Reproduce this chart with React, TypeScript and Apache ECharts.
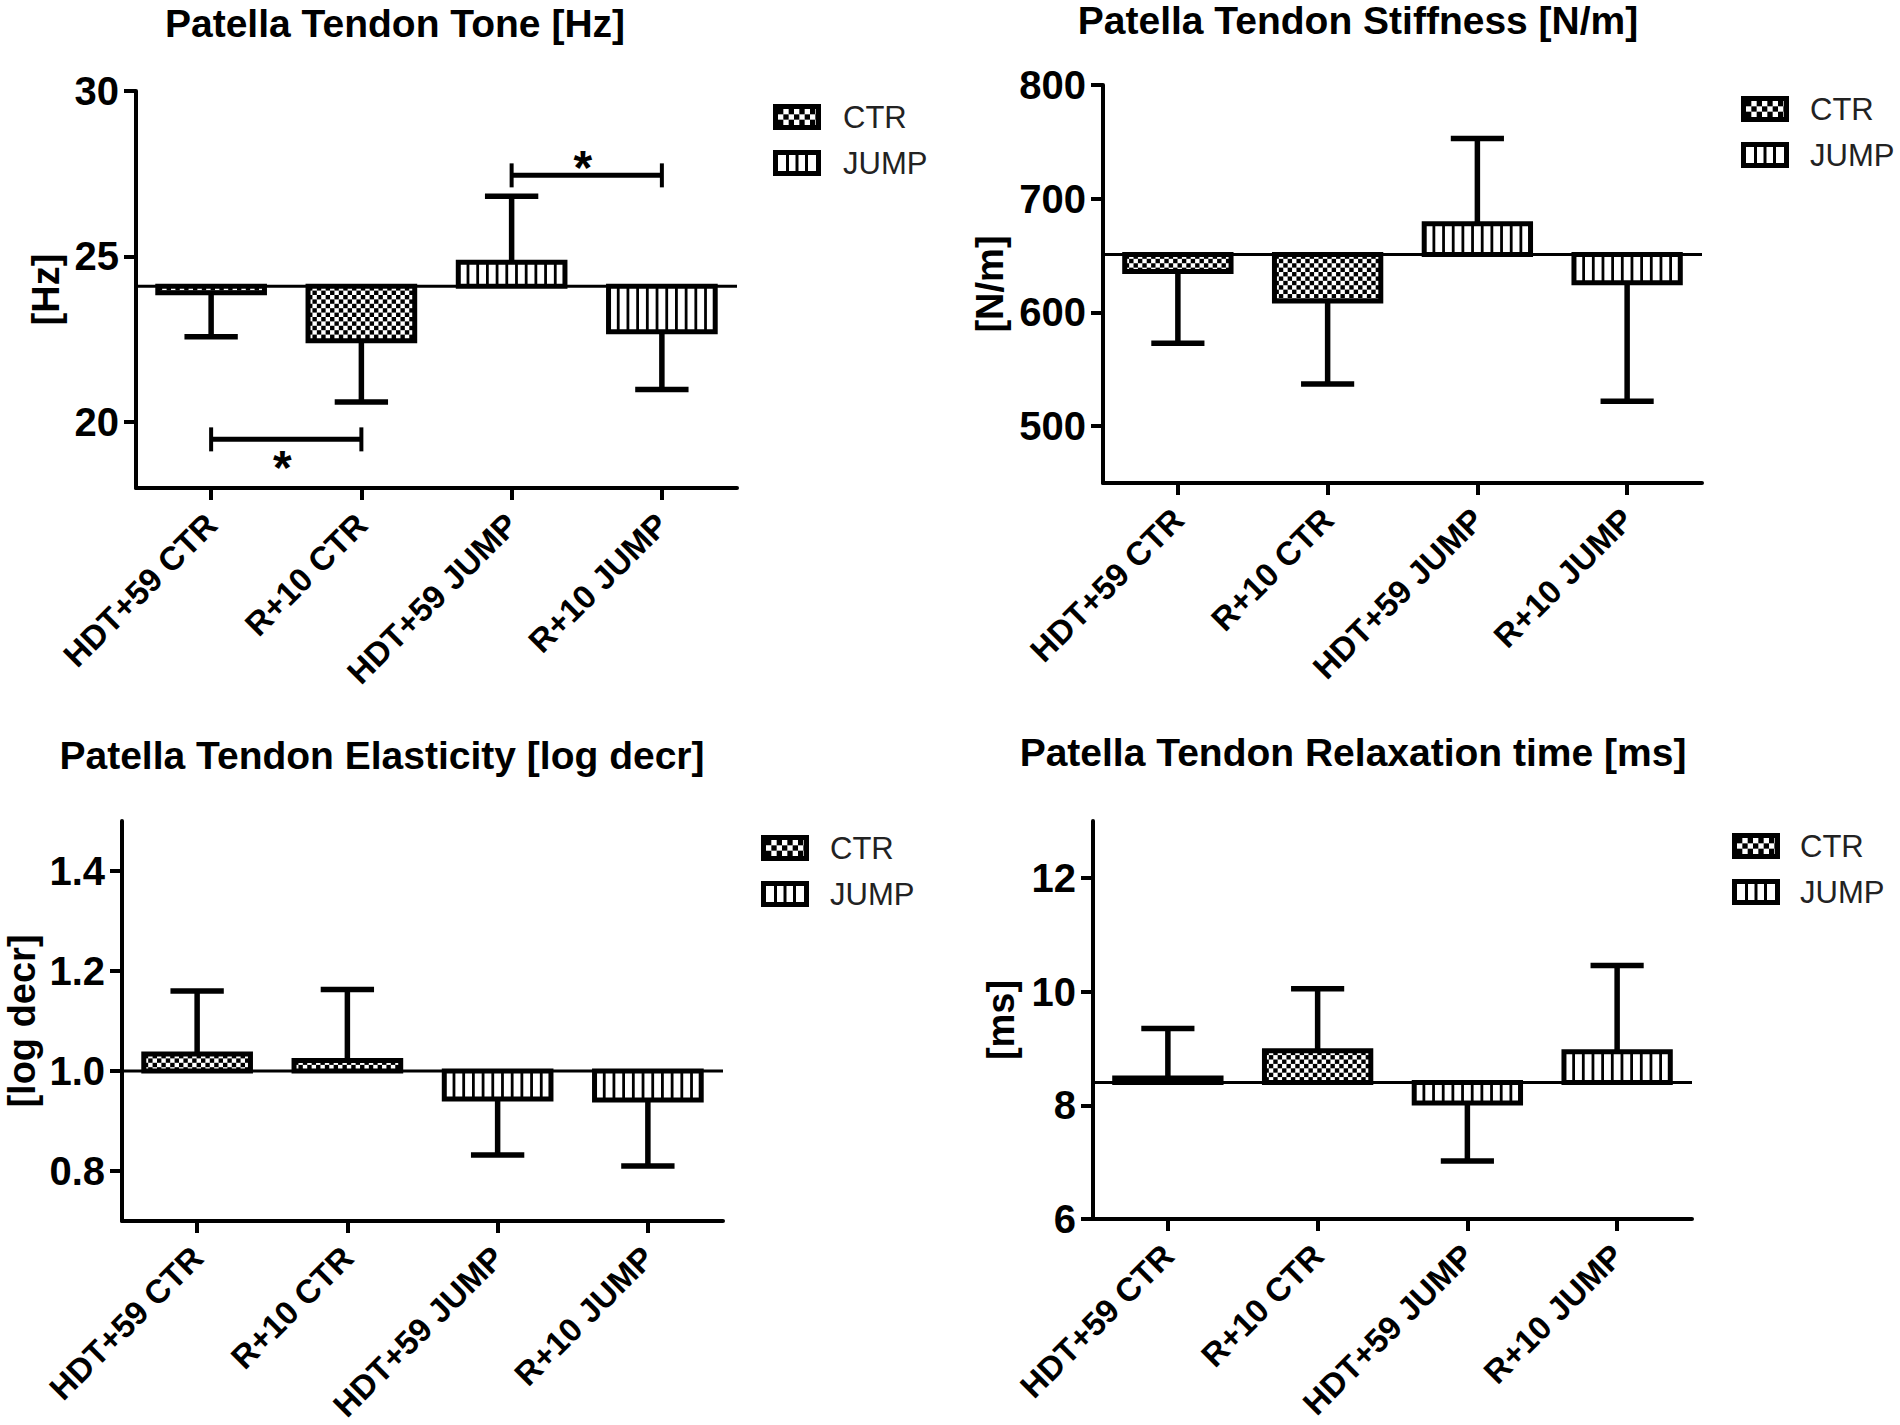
import React, { useEffect, useRef } from "react";
import * as echarts from "echarts";

// ---------------- data ----------------
const categories = ["HDT+59 CTR", "R+10 CTR", "HDT+59 JUMP", "R+10 JUMP"];
const groupOf = ["CTR", "CTR", "JUMP", "JUMP"];

const toneMean = [23.9, 22.45, 24.82, 22.72];
const toneErr = [22.57, 20.6, 26.82, 20.98];
const toneBase = 24.1;
const toneTicks = [20, 25, 30];
const toneBrackets = [
  { from: 2, to: 3, y: 27.45, side: 1 },
  { from: 0, to: 1, y: 19.47, side: -1 },
];

const stiffMean = [636, 610, 678, 626];
const stiffErr = [573, 537, 753, 522];
const stiffBase = 651;
const stiffTicks = [500, 600, 700, 800];

const elastMean = [1.034, 1.021, 0.944, 0.942];
const elastErr = [1.16, 1.163, 0.832, 0.81];
const elastBase = 1.0;
const elastTicks = [0.8, 1.0, 1.2, 1.4];

const relaxMean = [8.48, 8.96, 8.04, 8.94];
const relaxErr = [9.35, 10.05, 7.02, 10.46];
const relaxBase = 8.4;
const relaxTicks = [6, 8, 10, 12];

const legendNames = ["CTR", "JUMP"];

// ---------------- styling / layout ----------------
const FONT = "'Liberation Sans', Arial, Helvetica, sans-serif";
const CELL = 4.4;
const STRIPE_PERIOD = 9.7;
const STRIPE_W = 2.8;
const BAR_RATIO = 0.71;
const CAP_RATIO = 0.5;

const panels = [
  {
    title: "Patella Tendon Tone [Hz]", yName: "[Hz]",
    means: toneMean, errs: toneErr, base: toneBase, ticks: toneTicks,
    min: 18, max: 30, digits: 0,
    grid: { left: 136, top: 91, width: 601, height: 397 },
    nameGap: 71, titlePos: [395, 23], legend: { x: 773, y1: 117, y2: 163, tx: 843 },
  },
  {
    title: "Patella Tendon Stiffness [N/m]", yName: "[N/m]",
    means: stiffMean, errs: stiffErr, base: stiffBase, ticks: stiffTicks,
    min: 450, max: 800, digits: 0,
    grid: { left: 1103, top: 85, width: 599, height: 398 },
    nameGap: 94, titlePos: [1358, 20], legend: { x: 1741, y1: 109, y2: 155, tx: 1810 },
  },
  {
    title: "Patella Tendon Elasticity [log decr]", yName: "[log decr]",
    means: elastMean, errs: elastErr, base: elastBase, ticks: elastTicks,
    min: 0.7, max: 1.5, digits: 1,
    grid: { left: 122, top: 821, width: 601, height: 400 },
    nameGap: 81, titlePos: [382, 755], legend: { x: 761, y1: 848, y2: 894, tx: 830 },
  },
  {
    title: "Patella Tendon Relaxation time [ms]", yName: "[ms]",
    means: relaxMean, errs: relaxErr, base: relaxBase, ticks: relaxTicks,
    min: 6, max: 13, digits: 0,
    grid: { left: 1093, top: 821, width: 599, height: 398 },
    nameGap: 73, titlePos: [1353, 752], legend: { x: 1732, y1: 846, y2: 892, tx: 1800 },
  },
];

function patternChildren(kind: string, x: number, y: number, w: number, h: number, cell = CELL) {
  const out: any[] = [];
  if (w <= 0 || h <= 0) return out;
  if (kind === "CTR") {
    let i = 0;
    for (let yy = y; yy < y + h - 0.01; yy += cell, i++) {
      let j = 0;
      for (let xx = x; xx < x + w - 0.01; xx += cell, j++) {
        if ((i + j) % 2 === 0) {
          out.push({
            type: "rect",
            shape: { x: xx, y: yy, width: Math.min(cell, x + w - xx), height: Math.min(cell, y + h - yy) },
            style: { fill: "#000" },
          });
        }
      }
    }
  } else {
    const n = Math.max(1, Math.round(w / STRIPE_PERIOD));
    const sp = w / n;
    for (let k = 1; k < n; k++) {
      out.push({
        type: "rect",
        shape: { x: x + k * sp - STRIPE_W / 2, y, width: STRIPE_W, height: h },
        style: { fill: "#000" },
      });
    }
  }
  return out;
}

function makeBarRender(base: number) {
  return (params: any, api: any) => {
    const cat = api.value(0);
    const m = api.value(1);
    const e = api.value(2);
    const band = api.size([1, 0])[0];
    const bw = band * BAR_RATIO;
    const pB = api.coord([cat, base]);
    const pM = api.coord([cat, m]);
    const pE = api.coord([cat, e]);
    const cx = pB[0];
    const x0 = cx - bw / 2;
    const yTop = Math.min(pB[1], pM[1]);
    const h = Math.abs(pB[1] - pM[1]);
    const kind = groupOf[cat];
    const children: any[] = [];
    if (params.dataIndex === 0) {
      const cs = params.coordSys;
      children.push({
        type: "line",
        shape: { x1: cs.x, y1: pB[1], x2: cs.x + cs.width, y2: pB[1] },
        style: { stroke: "#000", lineWidth: 3 },
      });
    }
    children.push({ type: "rect", shape: { x: x0, y: yTop, width: bw, height: h }, style: { fill: "#fff" } });
    children.push(...patternChildren(kind, x0, yTop, bw, h));
    children.push({
      type: "rect",
      shape: { x: x0, y: yTop, width: bw, height: h },
      style: { fill: "none", stroke: "#000", lineWidth: 5 },
    });
    children.push({
      type: "line",
      shape: { x1: cx, y1: pM[1], x2: cx, y2: pE[1] },
      style: { stroke: "#000", lineWidth: 5.5 },
    });
    const cw = bw * CAP_RATIO;
    children.push({
      type: "line",
      shape: { x1: cx - cw / 2, y1: pE[1], x2: cx + cw / 2, y2: pE[1] },
      style: { stroke: "#000", lineWidth: 5.5 },
    });
    return { type: "group", children };
  };
}

function bracketRender(params: any, api: any) {
  const from = api.value(0);
  const to = api.value(1);
  const y = api.value(2);
  const side = api.value(3);
  const p1 = api.coord([from, y]);
  const p2 = api.coord([to, y]);
  const mid = (p1[0] + p2[0]) / 2;
  const starY = side > 0 ? p1[1] - 17 + 9 : p1[1] + 19 + 9;
  return {
    type: "group",
    children: [
      { type: "line", shape: { x1: p1[0], y1: p1[1], x2: p2[0], y2: p2[1] }, style: { stroke: "#000", lineWidth: 5 } },
      { type: "line", shape: { x1: p1[0], y1: p1[1] - 12, x2: p1[0], y2: p1[1] + 12 }, style: { stroke: "#000", lineWidth: 4 } },
      { type: "line", shape: { x1: p2[0], y1: p2[1] - 12, x2: p2[0], y2: p2[1] + 12 }, style: { stroke: "#000", lineWidth: 4 } },
      {
        type: "text",
        x: mid - 4,
        y: starY,
        style: { text: "*", fill: "#000", fontSize: 48, fontWeight: "bold", fontFamily: FONT, align: "center", verticalAlign: "middle" },
      },
    ],
  };
}

function legendIcon(kind: string, x: number, yc: number) {
  const w = 48, h = 26, inset = 5;
  const children: any[] = [
    { type: "rect", shape: { x: 0, y: 0, width: w, height: h }, style: { fill: "#000" } },
    { type: "rect", shape: { x: inset, y: inset, width: w - 2 * inset, height: h - 2 * inset }, style: { fill: "#fff" } },
  ];
  if (kind === "CTR") {
    children.push(...patternChildren("CTR", inset, inset, w - 2 * inset, h - 2 * inset, (h - 2 * inset) / 3));
  } else {
    const iw = w - 2 * inset;
    for (let k = 1; k < 4; k++) {
      children.push({ type: "rect", shape: { x: inset + (k * iw) / 4 - 1.5, y: inset, width: 3, height: h - 2 * inset }, style: { fill: "#000" } });
    }
  }
  return { type: "group", x, y: yc - h / 2, children };
}

function buildOption() {
  const grid: any[] = [];
  const xAxis: any[] = [];
  const yAxis: any[] = [];
  const series: any[] = [];
  const graphic: any[] = [];

  panels.forEach((p, i) => {
    grid.push({ ...p.grid, containLabel: false, outerBoundsMode: "none" });
    xAxis.push({
      type: "category",
      gridIndex: i,
      data: categories,
      boundaryGap: true,
      axisLine: { show: true, onZero: false, lineStyle: { color: "#000", width: 4 } },
      axisTick: { show: true, alignWithLabel: true, length: 12, lineStyle: { color: "#000", width: 4 } },
      axisLabel: { interval: 0, rotate: 45, margin: 31, fontSize: 33, fontWeight: "bold", fontFamily: FONT, color: "#000" },
      splitLine: { show: false },
    });
    yAxis.push({
      type: "value",
      gridIndex: i,
      min: p.min,
      max: p.max,
      name: p.yName,
      nameLocation: "middle",
      nameRotate: 90,
      nameGap: p.nameGap,
      nameTextStyle: { fontSize: 38, fontWeight: "bold", fontFamily: FONT, color: "#000" },
      axisLine: { show: true, lineStyle: { color: "#000", width: 4 } },
      axisTick: { show: true, length: 12, customValues: p.ticks, lineStyle: { color: "#000", width: 4 } },
      axisLabel: {
        customValues: p.ticks,
        margin: 17,
        fontSize: 40,
        fontWeight: "bold",
        fontFamily: FONT,
        color: "#000",
        formatter: (v: number) => v.toFixed(p.digits),
      },
      splitLine: { show: false },
    });
    series.push({
      type: "custom",
      name: p.title,
      xAxisIndex: i,
      yAxisIndex: i,
      renderItem: makeBarRender(p.base),
      data: categories.map((_, j) => [j, p.means[j], p.errs[j]]),
      z: 2,
    });

    graphic.push({
      type: "text",
      x: p.titlePos[0],
      y: p.titlePos[1],
      style: { text: p.title, fill: "#000", fontSize: 39, fontWeight: "bold", fontFamily: FONT, align: "center", verticalAlign: "middle" },
    });
    const lg = p.legend;
    [lg.y1, lg.y2].forEach((yy, k) => {
      graphic.push(legendIcon(legendNames[k], lg.x, yy));
      graphic.push({
        type: "text",
        x: lg.tx,
        y: yy,
        style: { text: legendNames[k], fill: "#222", fontSize: 31, fontFamily: FONT, align: "left", verticalAlign: "middle" },
      });
    });
  });

  series.push({
    type: "custom",
    name: "significance",
    xAxisIndex: 0,
    yAxisIndex: 0,
    renderItem: bracketRender,
    data: toneBrackets.map((b) => [b.from, b.to, b.y, b.side]),
    z: 3,
  });

  return {
    animation: false,
    backgroundColor: "#fff",
    grid,
    xAxis,
    yAxis,
    series,
    graphic,
  };
}

export default function App() {
  const ref = useRef<HTMLDivElement>(null);
  useEffect(() => {
    document.body.style.margin = "0";
    const chart = echarts.init(ref.current as HTMLDivElement, null, { renderer: "svg" });
    chart.setOption(buildOption() as any);
    return () => chart.dispose();
  }, []);
  return <div ref={ref} style={{ width: 1900, height: 1425 }} />;
}
